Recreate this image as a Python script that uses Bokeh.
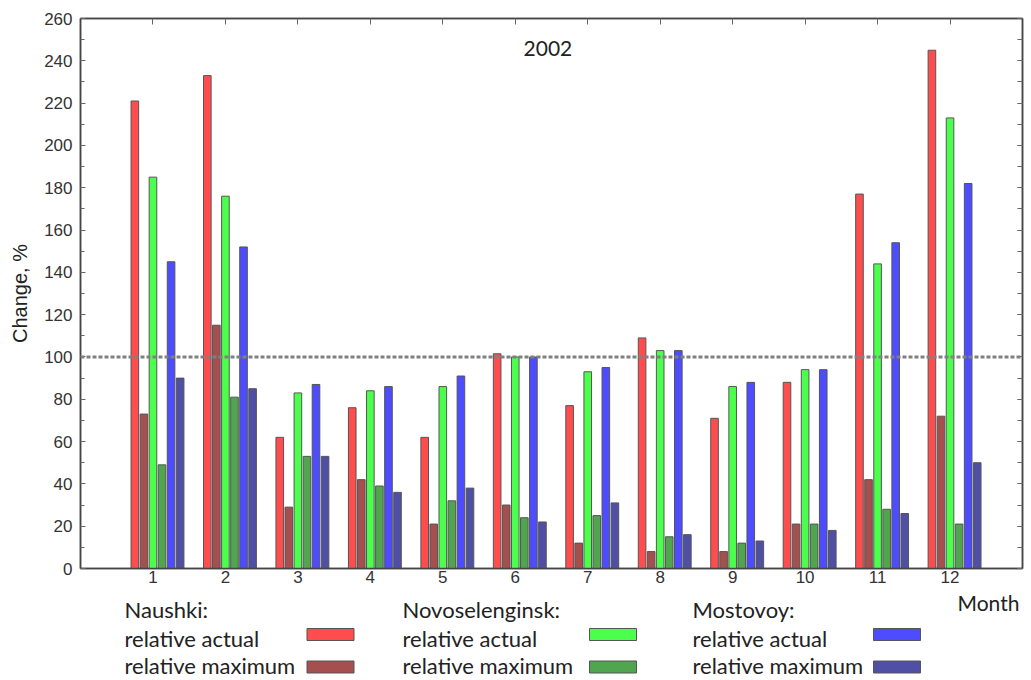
from bokeh.plotting import figure
from bokeh.models import (ColumnDataSource, Range1d, FixedTicker, LinearAxis, Span,
                          Label, CustomJSTickFormatter)
from bokeh.layouts import column
from bokeh.transform import dodge
from bokeh.core.properties import value
from bokeh.embed import file_html
from bokeh.resources import INLINE

# ---------------- data ----------------
months = [1, 2, 3, 4, 5, 6, 7, 8, 9, 10, 11, 12]
naushki_actual = [221, 233, 62, 76, 62, 101.5, 77, 109, 71, 88, 177, 245]
naushki_max = [73, 115, 29, 42, 21, 30, 12, 8, 8, 21, 42, 72]
novo_actual = [185, 176, 83, 84, 86, 100, 93, 103, 86, 94, 144, 213]
novo_max = [49, 81, 53, 39, 32, 24, 25, 15, 12, 21, 28, 21]
most_actual = [145, 152, 87, 86, 91, 100, 95, 103, 88, 94, 154, 182]
most_max = [90, 85, 53, 36, 38, 22, 31, 16, 13, 18, 26, 50]
y_ticks = list(range(0, 261, 20))
y_minor = list(range(0, 261, 10))
reference_level = 100
title_text = "2002"

stations = ["Naushki:", "Novoselenginsk:", "Mostovoy:"]
series_labels = ["relative actual", "relative maximum"]

# ---------------- style ----------------
colors = ["#ff4d4d", "#a64f4f", "#4dff4d", "#4fa64f", "#4d4dff", "#4f4fa6"]
offsets = [-0.25, -0.125, 0.0, 0.125, 0.25, 0.375]
bar_w = 0.105
edge = "#555555"
axis_col = "#444444"
label_font = "Liberation Sans"
text_font = "Lato"

W = 1030
BL, BR = 80, 8
MH = 589

source = ColumnDataSource(dict(
    month=months,
    na=naushki_actual, nm=naushki_max,
    va=novo_actual, vm=novo_max,
    ma=most_actual, mm=most_max,
))

p = figure(width=W, height=MH, output_backend="svg", toolbar_location=None,
           x_range=Range1d(0, 13), y_range=Range1d(0, 260),
           min_border_left=BL, min_border_right=BR, min_border_top=18, min_border_bottom=MH - 568)
p.background_fill_color = "white"
p.border_fill_color = "white"
p.outline_line_color = axis_col
p.outline_line_width = 1.5
p.grid.visible = False

fields = ["na", "nm", "va", "vm", "ma", "mm"]
for f, c, o in zip(fields, colors, offsets):
    p.vbar(x=dodge("month", o, range=p.x_range), top=f, bottom=0, width=bar_w,
           source=source, fill_color=c, line_color=edge, line_width=1)

p.add_layout(Span(location=reference_level, dimension="width", line_color="#808080",
                  line_width=3, line_dash="4 2"))

p.add_layout(Label(x=6.45, y=246, text=title_text, text_align="center",
                   text_baseline="alphabetic", text_font=text_font,
                   text_font_size="21px", text_color="#222222"))

# bottom axis
xa = p.xaxis[0]
xa.ticker = FixedTicker(ticks=months)
xa.major_tick_in = 0
xa.major_tick_out = 0
xa.minor_tick_in = 0
xa.minor_tick_out = 0
xa.major_label_standoff = 2
xa.major_label_text_font = label_font
xa.major_label_text_font_size = "17px"
xa.major_label_text_color = "#333333"
xa.axis_line_color = axis_col
xa.axis_line_width = 1.5

# left axis
ya = p.yaxis[0]
ya.ticker = FixedTicker(ticks=y_ticks, minor_ticks=y_minor)
ya.major_tick_in = 5
ya.major_tick_out = 0
ya.minor_tick_in = 4
ya.minor_tick_out = 0
ya.major_tick_line_color = "#666666"
ya.minor_tick_line_color = "#666666"
ya.major_label_standoff = 8
ya.major_label_text_font = label_font
ya.major_label_text_font_size = "17px"
ya.major_label_text_color = "#333333"
ya.axis_line_color = axis_col
ya.axis_line_width = 1.5
ya.axis_label = "Change, %"
ya.axis_label_text_font = label_font
ya.axis_label_text_font_size = "20px"
ya.axis_label_text_font_style = "normal"
ya.axis_label_text_color = "#222222"
ya.axis_label_standoff = 10

blank = CustomJSTickFormatter(code="return ''")

# right axis (ticks only)
ra = LinearAxis(ticker=FixedTicker(ticks=y_ticks, minor_ticks=y_minor), formatter=blank)
ra.major_tick_in = 5
ra.major_tick_out = 0
ra.minor_tick_in = 5
ra.minor_tick_out = 0
ra.major_tick_line_color = "#666666"
ra.minor_tick_line_color = "#666666"
ra.major_label_standoff = 0
ra.axis_line_color = axis_col
ra.axis_line_width = 1.5
p.add_layout(ra, "right")

# top axis (ticks only)
ta = LinearAxis(ticker=FixedTicker(ticks=months), formatter=blank)
ta.major_tick_in = 6
ta.major_tick_out = 0
ta.minor_tick_in = 0
ta.minor_tick_out = 0
ta.major_tick_line_color = "#666666"
ta.major_label_standoff = 0
ta.axis_line_color = axis_col
ta.axis_line_width = 1.5
p.add_layout(ta, "above")

# ---------------- legend panel (page-pixel coordinates, y from panel top) ----------------
LH = 680 - MH
lg = figure(width=W, height=LH, output_backend="svg", toolbar_location=None,
            x_range=Range1d(BL, W - BR), y_range=Range1d(LH, 0),
            min_border_left=BL, min_border_right=BR,
            min_border_top=0, min_border_bottom=0)
lg.axis.visible = False
lg.grid.visible = False
lg.outline_line_color = None
lg.background_fill_color = "white"
lg.border_fill_color = "white"

col_x = [124, 402, 692]
sw_x = [330, 612.5, 896.5]
head_y = 20
row_y = [49, 75.5]
sw_y = [45, 77.5]

tx, ty, tt = [], [], []
for i, st in enumerate(stations):
    tx.append(col_x[i]); ty.append(head_y); tt.append(st)
    for j, s in enumerate(series_labels):
        tx.append(col_x[i]); ty.append(row_y[j]); tt.append(s)
lg.text(x=tx, y=ty, text=tt, text_font=value(text_font), text_font_size="22px",
        text_color="#222222", text_baseline="alphabetic", text_align="left")

lg.add_layout(Label(x=957, y=13, text="Month", text_font=text_font, text_font_size="21px",
                    text_color="#222222", text_baseline="alphabetic", text_align="left"))

rx, ry, rc = [], [], []
for i in range(3):
    for j in range(2):
        rx.append(sw_x[i]); ry.append(sw_y[j]); rc.append(colors[2 * i + j])
lg.rect(x=rx, y=ry, width=47, height=12, fill_color=rc, line_color=edge, line_width=1)

layout = column(p, lg, spacing=0)
open("out.html", "w").write(file_html(layout, INLINE))
